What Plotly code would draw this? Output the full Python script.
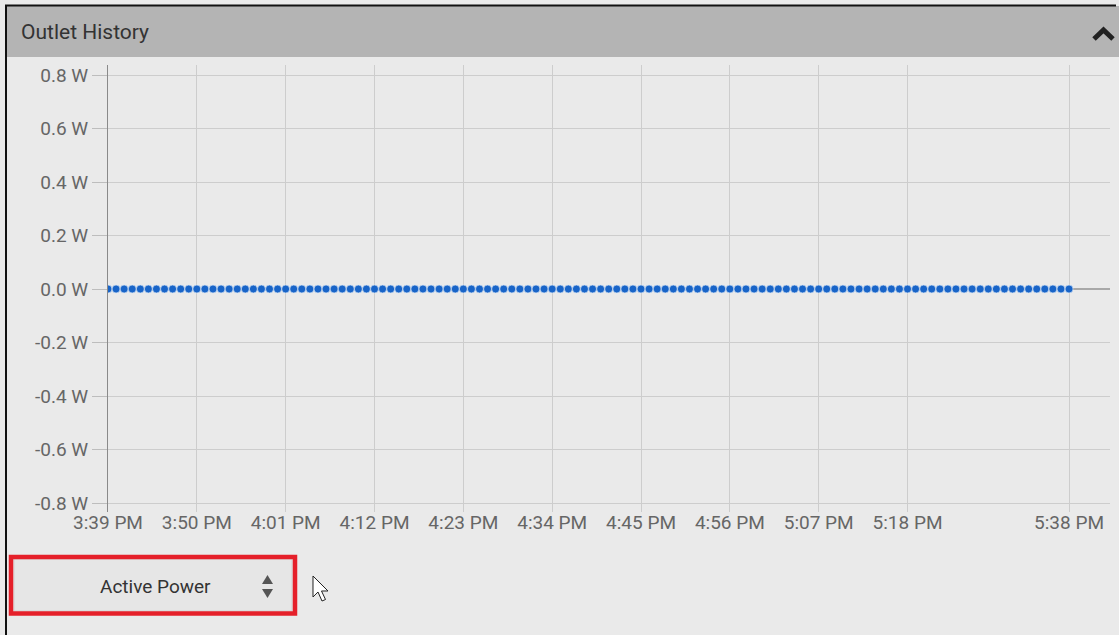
import pandas as pd
import plotly.graph_objects as go

W, H = 1119, 635

# ---- data: one active-power reading per minute (all zero) ----
start_time = "2017-06-01 15:39"
sample_times = pd.date_range(start_time, periods=120, freq="1min")
active_power_w = [0.0] * 120

x_tick_times = ["15:39", "15:50", "16:01", "16:12", "16:23", "16:34",
                "16:45", "16:56", "17:07", "17:18", "17:38"]
x_tick_labels = ["3:39 PM", "3:50 PM", "4:01 PM", "4:12 PM", "4:23 PM", "4:34 PM",
                 "4:45 PM", "4:56 PM", "5:07 PM", "5:18 PM", "5:38 PM"]
y_tick_values = [0.8, 0.6, 0.4, 0.2, 0.0, -0.2, -0.4, -0.6, -0.8]
y_tick_labels = ["0.8 W", "0.6 W", "0.4 W", "0.2 W", "0.0 W",
                 "-0.2 W", "-0.4 W", "-0.6 W", "-0.8 W"]

# ---- layout geometry (pixels) ----
M_L, M_R, M_T, M_B = 108, 9, 65, 123
PW = W - M_L - M_R
PH = H - M_T - M_B


def px(x):
    return (x - M_L) / PW


def py(y):
    return (H - M_B - y) / PH


def path(points, close=True):
    s = "M " + " L ".join(f"{px(a):.5f},{py(b):.5f}" for a, b in points)
    return s + (" Z" if close else "")


day = start_time.split(" ")[0]
x_tickvals = [f"{day} {t}" for t in x_tick_times]

fig = go.Figure()
fig.add_trace(go.Scatter(
    x=sample_times, y=active_power_w, mode="markers",
    marker=dict(size=8, color="#1864c8", line=dict(color="#d6e4f5", width=0.7)),
    hoverinfo="x+y", showlegend=False,
))

bg = "#eaeaea"
shapes = [
    # panel header bar
    dict(type="rect", xref="paper", yref="paper",
         x0=px(7), x1=px(W), y0=py(57), y1=py(6),
         fillcolor="#b4b4b4", line=dict(width=0), layer="below"),
    # outer black frame (top and left)
    dict(type="line", xref="paper", yref="paper",
         x0=px(5), x1=px(1116), y0=py(5.5), y1=py(5.5),
         line=dict(color="#111111", width=2)),
    dict(type="line", xref="paper", yref="paper",
         x0=px(6), x1=px(6), y0=py(5), y1=py(H),
         line=dict(color="#111111", width=2)),
    # collapse chevron
    dict(type="path", xref="paper", yref="paper",
         path=path([(1094, 39), (1103.5, 30), (1113, 39)], close=False),
         line=dict(color="#222222", width=5)),
    # select box
    dict(type="rect", xref="paper", yref="paper",
         x0=px(14), x1=px(292), y0=py(611), y1=py(559),
         fillcolor="#e6e6e6", line=dict(color="#d2d2d2", width=1)),
    # red highlight around the select box
    dict(type="rect", xref="paper", yref="paper",
         x0=px(11), x1=px(295), y0=py(613.5), y1=py(557),
         line=dict(color="#e5202a", width=4.5)),
    # select arrows
    dict(type="path", xref="paper", yref="paper",
         path=path([(262, 584), (273, 584), (267.5, 575)]),
         fillcolor="#555555", line=dict(width=0)),
    dict(type="path", xref="paper", yref="paper",
         path=path([(262, 589), (273, 589), (267.5, 598)]),
         fillcolor="#555555", line=dict(width=0)),
    # mouse pointer
    dict(type="path", xref="paper", yref="paper",
         path=path([(313, 576), (313, 597), (318, 592), (322, 601),
                    (325.5, 599.5), (321.5, 591), (328, 591)]),
         fillcolor="#ffffff", line=dict(color="#222222", width=1)),
]

annotations = [
    dict(text="Outlet History", xref="paper", yref="paper",
         x=px(19), y=py(32), xanchor="left", yanchor="middle",
         showarrow=False, font=dict(family="Roboto", size=21, color="#333333")),
    dict(text="Active Power", xref="paper", yref="paper",
         x=px(155), y=py(586), xanchor="center", yanchor="middle",
         showarrow=False, font=dict(family="Roboto", size=19, color="#333333")),
]

x_end = pd.Timestamp(start_time) + pd.Timedelta(minutes=PW / 8.076)
tick_font = dict(family="Roboto", size=19, color="#666666")

fig.update_layout(
    width=W, height=H,
    margin=dict(l=M_L, r=M_R, t=M_T, b=M_B, pad=0),
    paper_bgcolor=bg, plot_bgcolor=bg,
    font=dict(family="Roboto", size=19, color="#666666"),
    shapes=shapes, annotations=annotations,
    xaxis=dict(
        range=[pd.Timestamp(start_time), x_end],
        tickmode="array", tickvals=x_tickvals, ticktext=x_tick_labels,
        showgrid=True, gridcolor="#cdcdcd", gridwidth=1,
        showline=False, zeroline=False, ticks="",
        ticklabelstandoff=-3,
        tickfont=tick_font, fixedrange=True,
    ),
    yaxis=dict(
        range=[-0.8 - 9 / 267.5, 0.8 + 10 / 267.5],
        tickmode="array", tickvals=y_tick_values, ticktext=y_tick_labels,
        showgrid=True, gridcolor="#cdcdcd", gridwidth=1,
        zeroline=True, zerolinecolor="#a8a8a8", zerolinewidth=1.5,
        showline=True, linecolor="#8a8a8a", linewidth=1,
        ticks="outside", ticklen=15, tickcolor="#bdbdbd", tickwidth=1,
        tickfont=tick_font, fixedrange=True,
    ),
)

fig.write_html("out.html", config={"displayModeBar": False})
